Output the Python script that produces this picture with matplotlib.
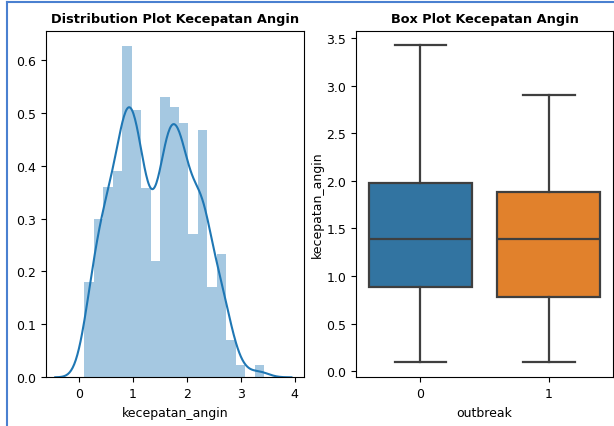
import numpy as np
import matplotlib
matplotlib.use("Agg")
import matplotlib.pyplot as plt
from matplotlib.lines import Line2D

# histogram of kecepatan_angin (density)
bin_start = 0.1
bin_end = 3.43
hist_density = [0.18, 0.30, 0.36, 0.39, 0.625, 0.505, 0.357, 0.22, 0.53, 0.51,
                0.48, 0.27, 0.468, 0.17, 0.233, 0.07, 0.024, 0.0, 0.024]

# box plot stats per outbreak group
groups = ["0", "1"]
whislo = [0.10, 0.10]
q1 = [0.88, 0.78]
med = [1.39, 1.39]
q3 = [1.98, 1.88]
whishi = [3.43, 2.90]
box_colors = ["#3274a1", "#e1812c"]

fig = plt.figure(figsize=(6.14, 4.27), dpi=100)
ax1 = fig.add_axes([0.0744, 0.114, 0.4206, 0.812])
ax2 = fig.add_axes([0.580, 0.114, 0.4185, 0.812])

# --- distribution plot
n_bins = len(hist_density)
edges = np.linspace(bin_start, bin_end, n_bins + 1)
centers = (edges[:-1] + edges[1:]) / 2
w = edges[1] - edges[0]
ax1.bar(edges[:-1], hist_density, width=w, align="edge", color="#1f77b4",
        alpha=0.4, linewidth=0)

# kde smoothed from the histogram
bw = 0.175
grid = np.linspace(bin_start - 3.1 * bw, bin_end + 2.9 * bw, 300)
weights = np.array(hist_density) * w
kde = np.zeros_like(grid)
for c, wt in zip(centers, weights):
    kde += wt * np.exp(-0.5 * ((grid - c) / bw) ** 2) / (bw * np.sqrt(2 * np.pi))
ax1.plot(grid, kde, color="#1f77b4", linewidth=1.5)
ax1.set_xlim(-0.62, 4.17)
ax1.set_ylim(0, 0.655)
ax1.set_xticks([0, 1, 2, 3, 4])
ax1.set_xlabel("kecepatan_angin", fontsize=9)
ax1.set_title("Distribution Plot Kecepatan Angin", fontsize=9.3, fontweight="bold")

# --- box plot
stats = []
for i, g in enumerate(groups):
    stats.append(dict(label=g, whislo=whislo[i], q1=q1[i], med=med[i],
                      q3=q3[i], whishi=whishi[i], fliers=[]))
line_c = "#3f3f3f"
lw = 1.6
bp = ax2.bxp(stats, positions=range(len(groups)), widths=0.8,
             patch_artist=True, showfliers=False,
             boxprops=dict(edgecolor=line_c, linewidth=lw),
             medianprops=dict(color=line_c, linewidth=lw),
             whiskerprops=dict(color=line_c, linewidth=lw),
             capprops=dict(color=line_c, linewidth=lw))
for patch, col in zip(bp["boxes"], box_colors):
    patch.set_facecolor(col)
ax2.set_xlim(-0.5, 1.5)
ax2.set_ylim(-0.063, 3.577)
ax2.set_yticks([0.0, 0.5, 1.0, 1.5, 2.0, 2.5, 3.0, 3.5])
ax2.set_xlabel("outbreak", fontsize=9)
ax2.set_ylabel("kecepatan_angin", fontsize=9, labelpad=2)
ax2.set_title("Box Plot Kecepatan Angin", fontsize=9.3, fontweight="bold")

for ax in (ax1, ax2):
    ax.tick_params(labelsize=9)

# notebook cell border
fig.add_artist(Line2D([0.011, 0.011], [0, 0.993], color="#4a80d0", linewidth=1.5))
fig.add_artist(Line2D([0.011, 1], [0.993, 0.993], color="#4a80d0", linewidth=1.5))

fig.savefig("out.png", dpi=100)
